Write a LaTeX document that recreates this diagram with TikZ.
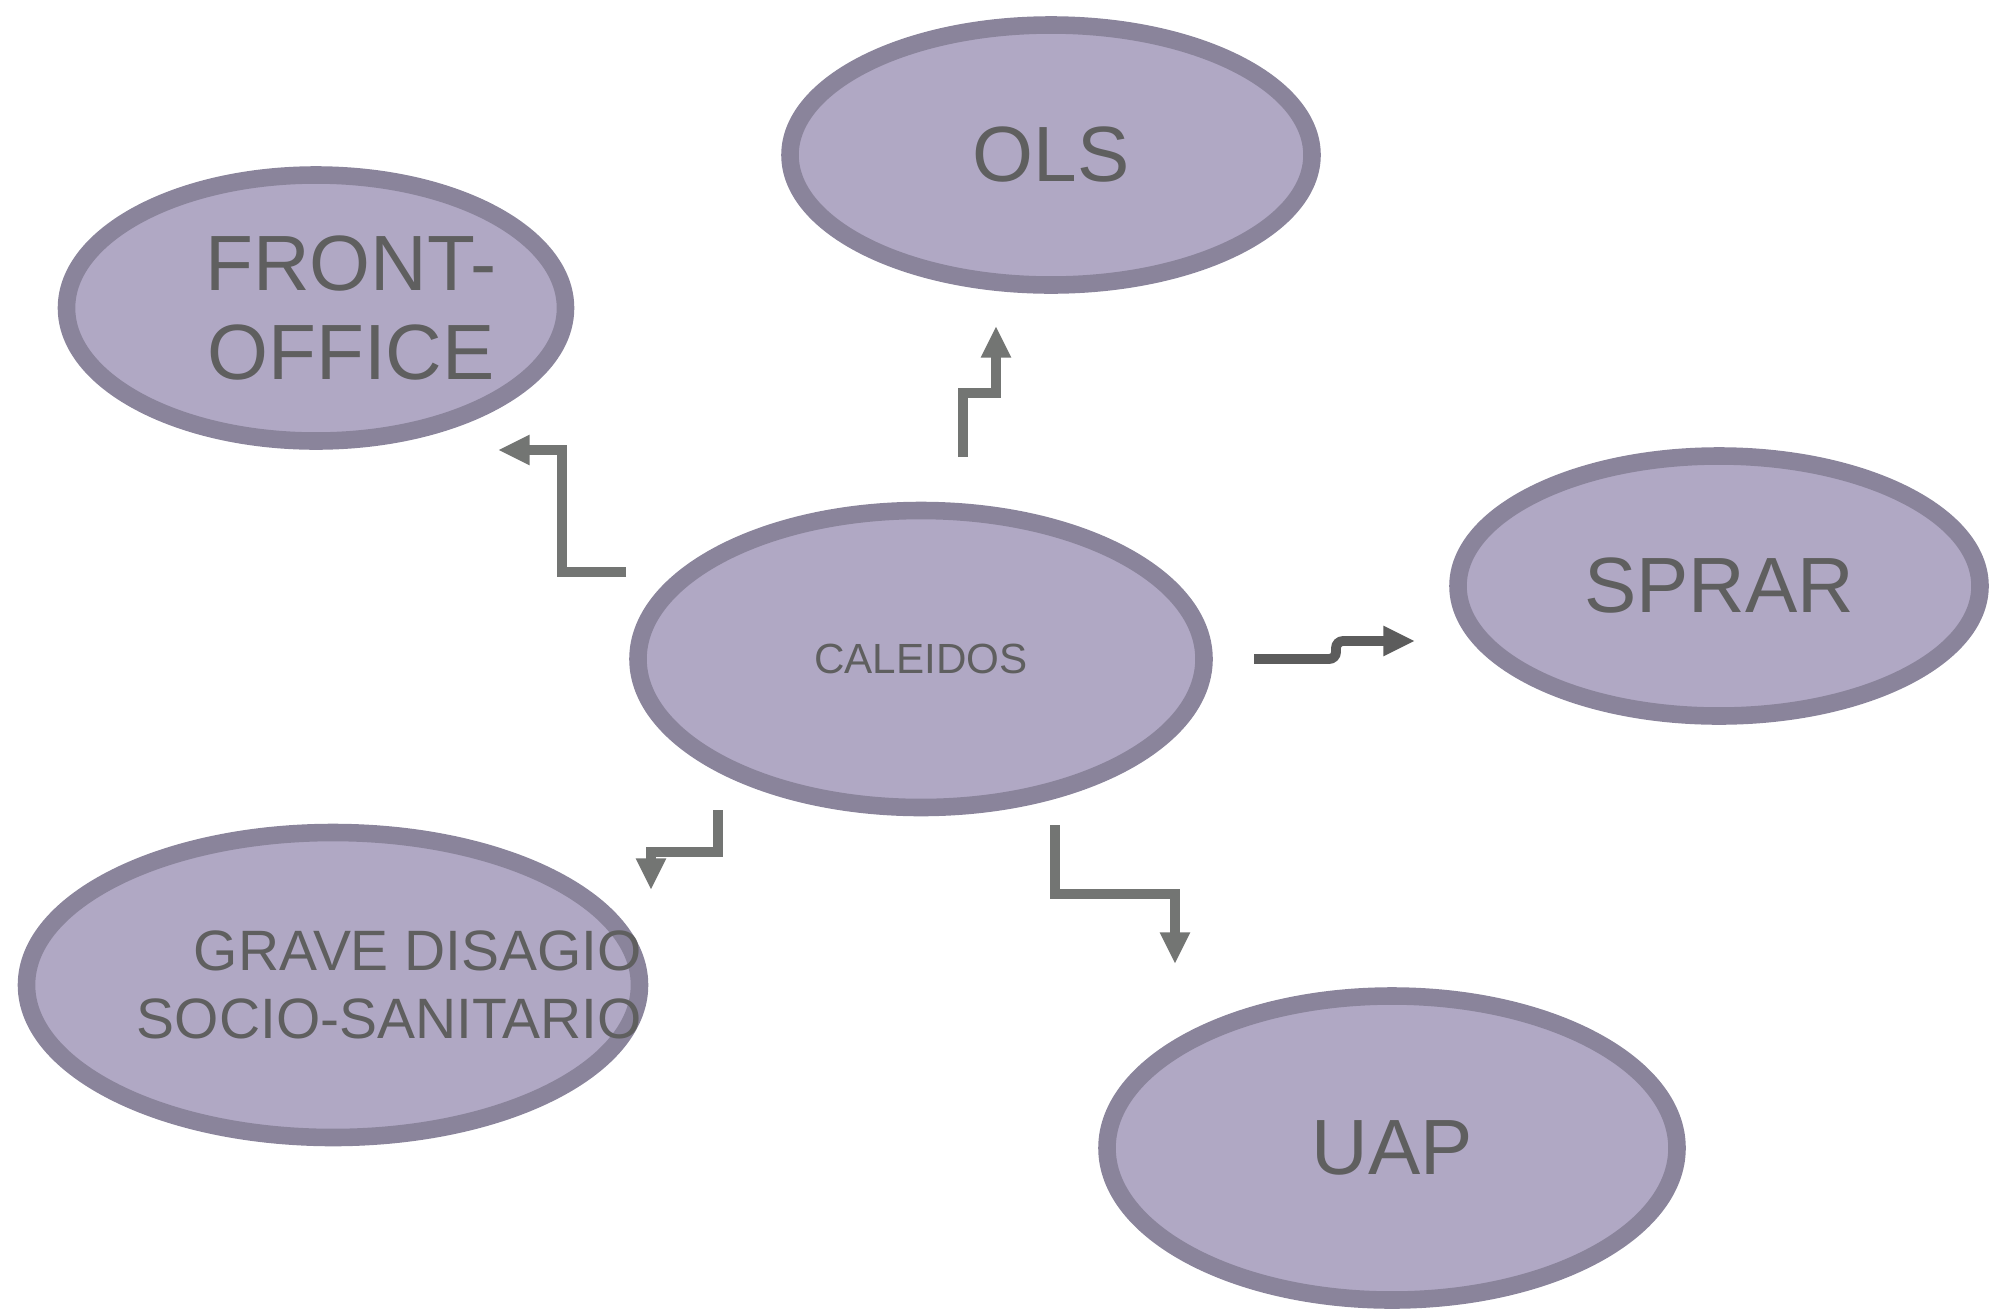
\documentclass[tikz,border=0pt]{standalone}
\usepackage{fontspec}
\setmainfont{Liberation Sans}
\usepackage{tikz}
\usetikzlibrary{shapes.geometric,arrows.meta,calc}
\definecolor{LilacFill}{RGB}{176,168,196}
\definecolor{LilacEdge}{RGB}{138,132,155}
\definecolor{TextGray}{RGB}{95,95,95}
\definecolor{LinkGray}{RGB}{115,117,115}
\definecolor{LinkDark}{RGB}{92,92,92}

\begin{document}
\begin{tikzpicture}[
  unit/.style={ellipse, draw=LilacEdge, fill=LilacFill, line width=5pt,
    inner sep=0pt, text=TextGray},
  bigtext/.style={font=\fontsize{22.3}{25.4}\selectfont},
  midtext/.style={font=\fontsize{16.2}{19.3}\selectfont},
  link/.style={draw=LinkGray, line width=2.8pt, -{Triangle[length=9pt,width=8pt]}},
  linkdark/.style={link, draw=LinkDark, rounded corners=2pt}
]
\useasboundingbox (0,0) rectangle (20.03,-13.13);

% Central unit
\node[unit, minimum width=5.66cm, minimum height=2.97cm,
  font=\fontsize{12}{14}\selectfont] (cal) at (9.21,-6.59) {CALEIDOS};

% Services around it
\node[unit, bigtext, minimum width=5.22cm, minimum height=2.60cm] (ols) at (10.51,-1.55) {OLS};
\node[unit, minimum width=4.99cm, minimum height=2.66cm,
  label={[bigtext, text=TextGray, align=center, xshift=0.35cm]center:FRONT-\\OFFICE}] (front) at (3.16,-3.08) {};
\node[unit, bigtext, minimum width=5.22cm, minimum height=2.60cm] (sprar) at (17.19,-5.86) {SPRAR};
\node[unit, minimum width=6.13cm, minimum height=3.05cm,
  label={[midtext, text=TextGray, align=right, xshift=0.565cm]center:GRAVE DISAGIO\\SOCIO-SANITARIO}] (grave) at (3.33,-9.85) {};
\node[unit, bigtext, minimum width=5.70cm, minimum height=3.04cm] (uap) at (13.92,-11.48) {UAP};

% Arrow ends
\coordinate (front-s) at (6.26,-5.72);
\coordinate (front-e) at (4.98,-4.50);
\coordinate (ols-s) at (9.63,-4.57);
\coordinate (ols-e) at (9.96,-3.26);
\coordinate (sprar-s) at (12.54,-6.59);
\coordinate (sprar-e) at (14.15,-6.41);
\coordinate (grave-s) at (7.18,-8.10);
\coordinate (grave-e) at (6.51,-8.90);
\coordinate (uap-s) at (10.55,-8.25);
\coordinate (uap-e) at (11.75,-9.64);

% Stepped arrows
\draw[link] (front-s) -- ++(-0.64,0) |- (front-e);
\draw[link] (ols-s) -- ++(0,0.64) -| (ols-e);
\draw[linkdark] (sprar-s) -- ++(0.82,0) |- (sprar-e);
\draw[link] (grave-s) -- ++(0,-0.42) -| (grave-e);
\draw[link] (uap-s) -- ++(0,-0.69) -| (uap-e);

\end{tikzpicture}
\end{document}
